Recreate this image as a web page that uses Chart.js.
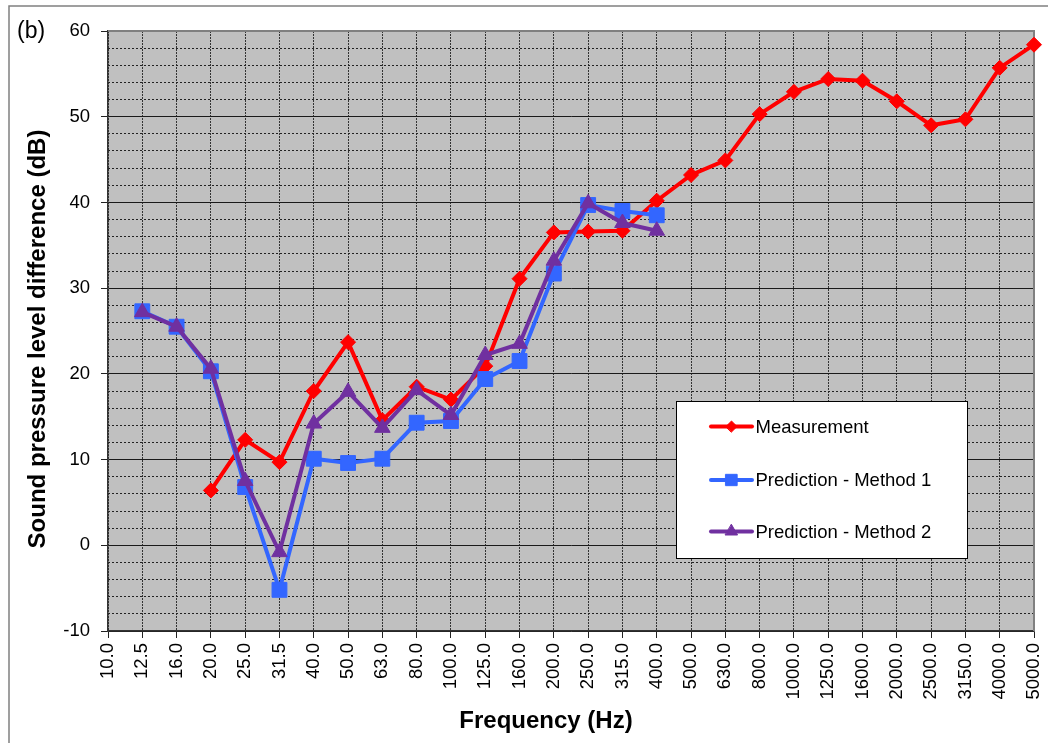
<!DOCTYPE html>
<html><head><meta charset="utf-8">
<script src="https://cdn.jsdelivr.net/npm/chart.js@4/dist/chart.umd.min.js"></script>
<style>html,body{margin:0;padding:0;background:#fff;overflow:hidden}#wrap{position:relative;width:1048px;height:743px}</style>
</head><body><div id="wrap"><canvas id="c" width="1048" height="743"></canvas></div>
<script>
const categories = ['10.0','12.5','16.0','20.0','25.0','31.5','40.0','50.0','63.0','80.0','100.0','125.0','160.0','200.0','250.0','315.0','400.0','500.0','630.0','800.0','1000.0','1250.0','1600.0','2000.0','2500.0','3150.0','4000.0','5000.0'];
const measurement = [null,null,null,6.4,12.3,9.7,18.0,23.7,14.6,18.5,17.0,20.9,31.1,36.5,36.6,36.7,40.2,43.2,44.9,50.3,52.9,54.4,54.2,51.8,49.0,49.7,55.7,58.4];
const method1 = [null,27.3,25.5,20.3,6.8,-5.2,10.1,9.6,10.1,14.3,14.5,19.4,21.5,31.7,39.7,39.0,38.5,null,null,null,null,null,null,null,null,null,null,null];
const method2 = [null,27.2,25.5,20.6,7.5,-0.8,14.2,17.9,13.7,18.1,15.2,22.2,23.5,33.2,39.9,37.6,36.7,null,null,null,null,null,null,null,null,null,null,null];
const seriesNames = ['Measurement','Prediction - Method 1','Prediction - Method 2'];
const yMin = -10, yMax = 60, yMajorStep = 10, yMinorStep = 2;
const yTitle = 'Sound pressure level difference (dB)';
const xTitle = 'Frequency (Hz)';
const panelLabel = '(b)';

const FONT = "'Liberation Sans', Arial, sans-serif";
const RED = '#FF0000', BLUE = '#3366FF', PURPLE = '#7030A0';

function drawMarker(ctx, style, r, x, y, color) {
  if (Chart.helpers && Chart.helpers.drawPoint) {
    ctx.fillStyle = color; ctx.strokeStyle = color; ctx.lineWidth = 1;
    Chart.helpers.drawPoint(ctx, {pointStyle: style, radius: r, borderWidth: 1, rotation: 0}, x, y);
    return;
  }
  ctx.fillStyle = color; ctx.beginPath();
  if (style === 'rectRot') { ctx.moveTo(x, y - r); ctx.lineTo(x + r, y); ctx.lineTo(x, y + r); ctx.lineTo(x - r, y); }
  else if (style === 'rect') { const s = r * Math.SQRT1_2; ctx.rect(x - s, y - s, 2 * s, 2 * s); }
  else { ctx.moveTo(x, y - r); ctx.lineTo(x + r * 0.866, y + r / 2); ctx.lineTo(x - r * 0.866, y + r / 2); }
  ctx.closePath(); ctx.fill();
}

const deco = {
  id: 'deco',
  beforeDraw(chart) {
    const {ctx, chartArea: a} = chart;
    ctx.save();
    ctx.fillStyle = '#fff'; ctx.fillRect(0, 0, chart.width, chart.height);
    ctx.strokeStyle = '#808080'; ctx.lineWidth = 1.5;
    ctx.beginPath(); ctx.moveTo(9, 743); ctx.lineTo(9, 6); ctx.lineTo(1048, 6); ctx.stroke();
    ctx.fillStyle = '#C0C0C0'; ctx.fillRect(a.left, a.top, a.right - a.left, a.bottom - a.top);
    ctx.restore();
  },
  beforeDatasetsDraw(chart) {
    const {ctx, chartArea: a} = chart;
    ctx.save();
    ctx.strokeStyle = '#808080'; ctx.lineWidth = 2;
    ctx.beginPath(); ctx.moveTo(a.left, a.top); ctx.lineTo(a.right, a.top); ctx.lineTo(a.right, a.bottom); ctx.stroke();
    ctx.restore();
  },
  afterDraw(chart) {
    const {ctx} = chart;
    ctx.save();
    // legend box
    const bx = 676, by = 401, bw = 291, bh = 157;
    ctx.fillStyle = '#fff'; ctx.fillRect(bx, by, bw, bh);
    ctx.strokeStyle = '#000'; ctx.lineWidth = 1; ctx.strokeRect(bx + 0.5, by + 0.5, bw, bh);
    const rows = [426.5, 480, 531.5];
    chart.data.datasets.forEach((ds, i) => {
      const y = rows[i];
      ctx.strokeStyle = ds.borderColor; ctx.lineWidth = 4; ctx.lineCap = 'round';
      ctx.beginPath(); ctx.moveTo(711, y); ctx.lineTo(752, y); ctx.stroke();
      const r = ds.pointStyle === 'rectRot' ? 5.5 : (ds.pointStyle === 'rect' ? 8 : 7);
      drawMarker(ctx, ds.pointStyle, r, 731.5, y, ds.borderColor);
      ctx.fillStyle = '#000'; ctx.font = '18.5px ' + FONT; ctx.textBaseline = 'middle'; ctx.textAlign = 'left';
      ctx.fillText(ds.label, 755.5, y + 1);
    });
    // texts
    ctx.fillStyle = '#000';
    ctx.font = 'bold 24px ' + FONT; ctx.textAlign = 'center'; ctx.textBaseline = 'middle';
    ctx.fillText(xTitle, 546, 721);
    ctx.save();
    ctx.translate(38, 339); ctx.rotate(-Math.PI / 2);
    ctx.fillText(yTitle, 0, 0);
    ctx.restore();
    ctx.font = '23px ' + FONT; ctx.textAlign = 'left';
    ctx.fillText(panelLabel, 17, 32);
    ctx.restore();
  }
};

new Chart(document.getElementById('c'), {
  type: 'line',
  data: {
    labels: categories,
    datasets: [
      {label: seriesNames[0], data: measurement, borderColor: RED, backgroundColor: RED, pointStyle: 'rectRot', pointRadius: 7.5, pointBorderWidth: 1, borderWidth: 4, order: 3},
      {label: seriesNames[1], data: method1, borderColor: BLUE, backgroundColor: BLUE, pointStyle: 'rect', pointRadius: 10.5, pointBorderWidth: 1, borderWidth: 4, order: 2},
      {label: seriesNames[2], data: method2, borderColor: PURPLE, backgroundColor: PURPLE, pointStyle: 'triangle', pointRadius: 9, pointBorderWidth: 1, borderWidth: 4, order: 1}
    ]
  },
  options: {
    responsive: false, animation: false, devicePixelRatio: 1,
    layout: {padding: {left: 0, right: 14, top: 31, bottom: 0}},
    plugins: {legend: {display: false}, tooltip: {enabled: false}, title: {display: false}},
    elements: {line: {tension: 0}},
    scales: {
      x: {
        type: 'category', offset: false,
        grid: {color: '#333', lineWidth: 1, tickLength: 7, tickColor: '#222'},
        border: {display: true, color: '#333', width: 1.5, dash: [2, 1]},
        ticks: {font: {size: 18.5, family: FONT}, color: '#000', maxRotation: 90, minRotation: 90, padding: 5, autoSkip: false},
        afterFit(s) { s.height = 112; s.paddingRight = 0; s.paddingLeft = 0; }
      },
      y: {
        position: 'left', min: yMin, max: yMax,
        ticks: {stepSize: yMajorStep, font: {size: 18.5, family: FONT}, color: '#000', padding: 11},
        grid: {color: '#1a1a1a', lineWidth: 1, tickLength: 7, tickColor: '#222'},
        border: {display: true, color: '#333', width: 1.5},
        title: {display: false},
        afterFit(s) { s.width = 108; }
      },
      y2: {
        position: 'left', min: yMin, max: yMax,
        ticks: {stepSize: yMinorStep, display: false},
        grid: {color: (c) => (c.tick && c.tick.value % yMajorStep === 0) ? 'rgba(0,0,0,0)' : '#222', lineWidth: 1, drawTicks: false},
        border: {display: false, dash: [2, 2]},
        afterFit(s) { s.width = 0; }
      }
    }
  },
  plugins: [deco]
});
</script>
</body></html>
